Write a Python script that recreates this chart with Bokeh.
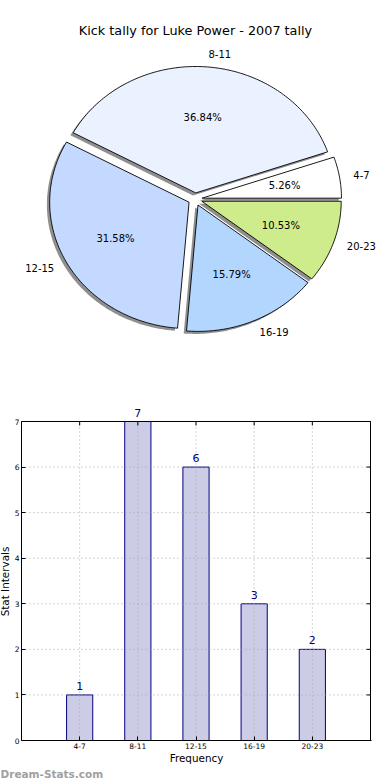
import numpy as np
from bokeh.plotting import figure
from bokeh.models import (Range1d, Label, LabelSet, ColumnDataSource,
                          FixedTicker)
from bokeh.layouts import column, row
from bokeh.core.properties import value
from bokeh.embed import file_html
from bokeh.resources import INLINE

# ---------------- data ----------------
chart_title = "Kick tally for Luke Power - 2007 tally"
categories = ["4-7", "8-11", "12-15", "16-19", "20-23"]
counts = [1, 7, 6, 3, 2]
pie_colors = ["#ffffff", "#eaf2ff", "#c4d9ff", "#b3d6ff", "#ceec8b"]
explode = [0.05, 0.05, 0.05, 0.05, 0.05]
y_ticks = [0, 1, 2, 3, 4, 5, 6, 7]
x_label = "Frequency"
y_label = "Stat Intervals"
watermark = "Dream-Stats.com"

FONT = value("DejaVu Sans")
W = 390


def bare(width, height, **kw):
    f = figure(width=width, height=height, x_axis_type=None,
               y_axis_type=None, frame_align=False, output_backend="svg",
               toolbar_location=None, min_border=0, **kw)
    f.grid.visible = False
    f.outline_line_color = None
    f.background_fill_color = "white"
    return f


# ---------------- pie ----------------
H1 = 390
RX, RY = 139.4, 126.4      # pixel radii of the (elliptical) pie
CX, CY = 194.7, 198.7      # pie centre in canvas px (from left / top)

p1 = bare(W, H1, x_range=Range1d(-CX / RX, (W - CX) / RX),
          y_range=Range1d(-(H1 - CY) / RY, CY / RY))

total = float(sum(counts))
fracs = np.array(counts) / total
ends = 2 * np.pi * np.cumsum(fracs)
starts = ends - 2 * np.pi * fracs
mids = (starts + ends) / 2

xs, ys, sxs, sys_ = [], [], [], []
for s, e, m, ex in zip(starts, ends, mids, explode):
    n = max(int((e - s) / (2 * np.pi) * 360), 4) + 1
    t = np.linspace(s, e, n)
    ox, oy = ex * np.cos(m), ex * np.sin(m)
    px = np.concatenate([[ox], ox + np.cos(t)])
    py = np.concatenate([[oy], oy + np.sin(t)])
    xs.append(px.tolist())
    ys.append(py.tolist())
    sxs.append((px - 0.02).tolist())
    sys_.append((py - 0.02).tolist())

p1.patches(sxs, sys_, fill_color="#8f8f8f", line_color=None)
p1.patches(xs, ys, fill_color=pie_colors, line_color="black", line_width=0.9)

# category labels
lx = [(ex + 1.1) * np.cos(m) for m, ex in zip(mids, explode)]
ly = [(ex + 1.1) * np.sin(m) for m, ex in zip(mids, explode)]
right_i = [i for i in range(len(categories)) if lx[i] > 0]
left_i = [i for i in range(len(categories)) if lx[i] <= 0]
for idx, align in ((right_i, "left"), (left_i, "right")):
    p1.text(x=[lx[i] for i in idx], y=[ly[i] for i in idx],
            text=[categories[i] for i in idx],
            text_align=align, text_baseline="middle",
            text_font=FONT, text_font_size="10px", text_color="black")

# percentage labels
qx = [(ex + 0.6) * np.cos(m) for m, ex in zip(mids, explode)]
qy = [(ex + 0.6) * np.sin(m) for m, ex in zip(mids, explode)]
pct = ["%.2f%%" % (100 * f) for f in fracs]
p1.text(x=qx, y=qy, text=pct, text_align="center", text_baseline="middle",
        text_font=FONT, text_font_size="10px", text_color="black")

p1.add_layout(Label(x=W / 2, y=H1 - 30, x_units="screen", y_units="screen",
                    text=chart_title, text_align="center",
                    text_baseline="middle", text_font="DejaVu Sans",
                    text_font_size="12.8px", text_color="black"))

# ---------------- bars ----------------
HW = 14                             # strip at the bottom for the watermark
H2 = 780 - H1 - HW
STRIP = 11                          # narrow strip holding the y label
F_LEFT, F_RIGHT = 19, 370          # box (window px)
F_TOP, F_BOT = 421, 740
EXTRA_TOP = 16                      # room above the box for value labels
nx = len(categories) + 1
ppx = (F_RIGHT - F_LEFT) / nx
ppy = (F_BOT - F_TOP) / y_ticks[-1]
BT = F_TOP - EXTRA_TOP - H1
BB = H1 + H2 - F_BOT
BL = F_LEFT - STRIP
BR = W - F_RIGHT - 1

pl = bare(STRIP, H2, x_range=Range1d(0, 1), y_range=Range1d(0, 1))
pl.add_layout(Label(x=4.5, y=H1 + H2 - 581, x_units="screen",
                    y_units="screen", text=y_label, angle=np.pi / 2,
                    text_align="center", text_baseline="middle",
                    text_font="DejaVu Sans", text_font_size="10.4px",
                    text_color="black"))

p2 = figure(width=W - STRIP, height=H2,
            x_range=Range1d(0, nx + 1 / ppx),
            y_range=Range1d(y_ticks[0], y_ticks[-1] + EXTRA_TOP / ppy),
            output_backend="svg", toolbar_location=None, frame_align=False,
            min_border_left=BL, min_border_right=BR,
            min_border_top=BT, min_border_bottom=BB)
p2.background_fill_color = "white"
p2.outline_line_color = None
p2.grid.visible = False

xpos = [i + 1 for i in range(len(categories))]
src = ColumnDataSource(dict(x=xpos, top=counts,
                            label=[str(c) for c in counts]))
p2.vbar(x="x", top="top", bottom=0, width=0.45, source=src,
        fill_color="#ccccE6", line_color="#000080", line_width=1)

# dotted grid (drawn above the bars)
ymax = y_ticks[-1]
p2.segment(x0=xpos, x1=xpos, y0=[0] * len(xpos), y1=[ymax] * len(xpos),
           line_color="#a8a8a8", line_dash="1 3", line_width=1)
p2.segment(x0=[0] * len(y_ticks), x1=[nx] * len(y_ticks), y0=y_ticks,
           y1=y_ticks, line_color="#a8a8a8", line_dash="1 3", line_width=1)

# top & right edges of the box with inward ticks
p2.segment(x0=[0, nx], x1=[nx, nx], y0=[ymax, 0], y1=[ymax, ymax],
           line_color="black", line_width=1)
p2.segment(x0=xpos, x1=xpos, y0=[ymax] * len(xpos),
           y1=[ymax - 4 / ppy] * len(xpos), line_color="black", line_width=1)
p2.segment(x0=[nx] * len(y_ticks), x1=[nx - 4 / ppx] * len(y_ticks),
           y0=y_ticks, y1=y_ticks, line_color="black", line_width=1)

xt = FixedTicker(ticks=xpos)
yt = FixedTicker(ticks=y_ticks)
xa = p2.xaxis[0]
xa.ticker = xt
xa.major_label_overrides = {x: c for x, c in zip(xpos, categories)}
ya = p2.yaxis[0]
ya.ticker = yt
ya.bounds = (y_ticks[0], y_ticks[-1])

for ax in (xa, ya):
    ax.major_tick_in = 4
    ax.major_tick_out = 0
    ax.minor_tick_in = 0
    ax.minor_tick_out = 0
    ax.axis_line_color = "black"
    ax.major_tick_line_color = "black"
    ax.major_label_text_font = "DejaVu Sans"
    ax.major_label_text_font_size = "7.5px"
    ax.major_label_text_color = "black"
    ax.axis_label_text_font = "DejaVu Sans"
    ax.axis_label_text_font_style = "normal"
    ax.axis_label_text_font_size = "10.4px"
    ax.axis_label_text_color = "black"
xa.major_label_standoff = 2
ya.major_label_standoff = 2
ya.axis_label_standoff = 0
xa.axis_label = x_label
xa.axis_label_standoff = 0

p2.add_layout(LabelSet(x="x", y="top", text="label", source=src,
                       y_offset=5, text_align="center",
                       text_baseline="alphabetic", text_color="#000080",
                       text_font=FONT, text_font_size="11px"))

# ---------------- watermark strip ----------------
pw = bare(W, HW, x_range=Range1d(0, 1), y_range=Range1d(0, 1))
pw.add_layout(Label(x=0, y=HW / 2, x_units="screen", y_units="screen",
                    text=watermark, text_align="left",
                    text_baseline="middle", text_font="DejaVu Sans",
                    text_font_style="bold", text_font_size="10.5px",
                    text_color="#a0a0a0"))

layout = column(p1, row(pl, p2), pw)
open("out.html", "w").write(file_html(layout, INLINE))
